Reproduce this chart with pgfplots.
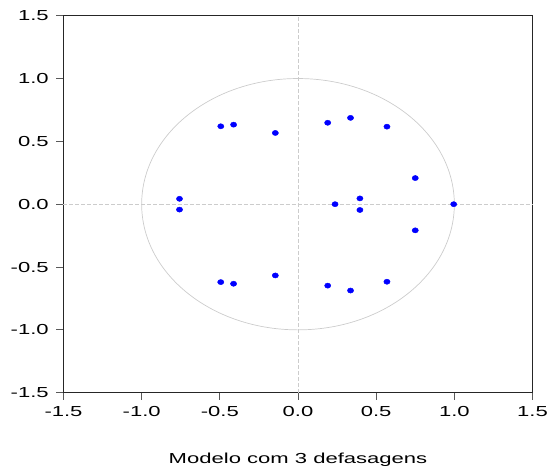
\documentclass[border=0pt]{standalone}
\usepackage{fontspec}
\setmainfont{Liberation Sans}[FakeStretch=1.52]
\usepackage{pgfplots}
\pgfplotsset{compat=1.18}
\usetikzlibrary{calc}
\definecolor{circgray}{RGB}{204,204,204}
\definecolor{dotblue}{RGB}{0,0,255}
\begin{document}
\begin{tikzpicture}
\begin{axis}[
  scale only axis,
  width=469pt, height=377pt,
  xmin=-1.5, xmax=1.5, ymin=-1.5, ymax=1.5,
  xtick={-1.5,-1,-0.5,0,0.5,1,1.5},
  ytick={-1.5,-1,-0.5,0,0.5,1,1.5},
  tick align=outside,
  tick pos=left,
  major tick length=7pt,
  axis line style={line width=1pt, black!85},
  tick style={line width=0.8pt, black!65},
  /pgf/number format/assume math mode=true,
  /pgf/number format/.cd, fixed, fixed zerofill, precision=1,
  /pgfplots/.cd,
  ticklabel style={font=\fontsize{14.5}{17}\selectfont},
  xticklabel style={inner xsep=0pt, inner ysep=6.5pt},
  yticklabel style={inner ysep=0pt, inner xsep=7.6pt},
  xlabel={Modelo com 3 defasagens},
  xlabel style={font=\fontsize{14.5}{17}\selectfont, at={(axis description cs:0.5,0)}, anchor=base, yshift=-71.3pt, inner sep=0pt},
  clip=false,
]
\draw[circgray, line width=0.7pt, dash pattern=on 4pt off 2pt] (axis cs:0,-1.5) -- (axis cs:0,1.5);
\draw[circgray, line width=0.7pt, dash pattern=on 4pt off 2pt] (axis cs:-1.5,0) -- (axis cs:1.5,0);
\draw[circgray, line width=0.7pt] (axis cs:0,0) ellipse [x radius=1, y radius=1];
\addplot[only marks, mark=*, mark size=2.6pt, dotblue, mark options={draw=dotblue, fill=dotblue, xscale=1.2}] coordinates {
(-0.494,0.62) (-0.494,-0.62)
(-0.412,0.633) (-0.412,-0.633)
(-0.145,0.567) (-0.145,-0.567)
(0.190,0.648) (0.190,-0.648)
(0.336,0.687) (0.336,-0.687)
(0.569,0.617) (0.569,-0.617)
(0.750,0.208) (0.750,-0.208)
(0.996,0)
(-0.758,0.043) (-0.758,-0.043)
(0.237,0)
(0.396,0.046) (0.396,-0.046)
};
\end{axis}
\path ($(current axis.south west)+(-63.5pt,-75.3pt)$) rectangle ($(current axis.north east)+(16.5pt,15.7pt)$);
\end{tikzpicture}
\end{document}
